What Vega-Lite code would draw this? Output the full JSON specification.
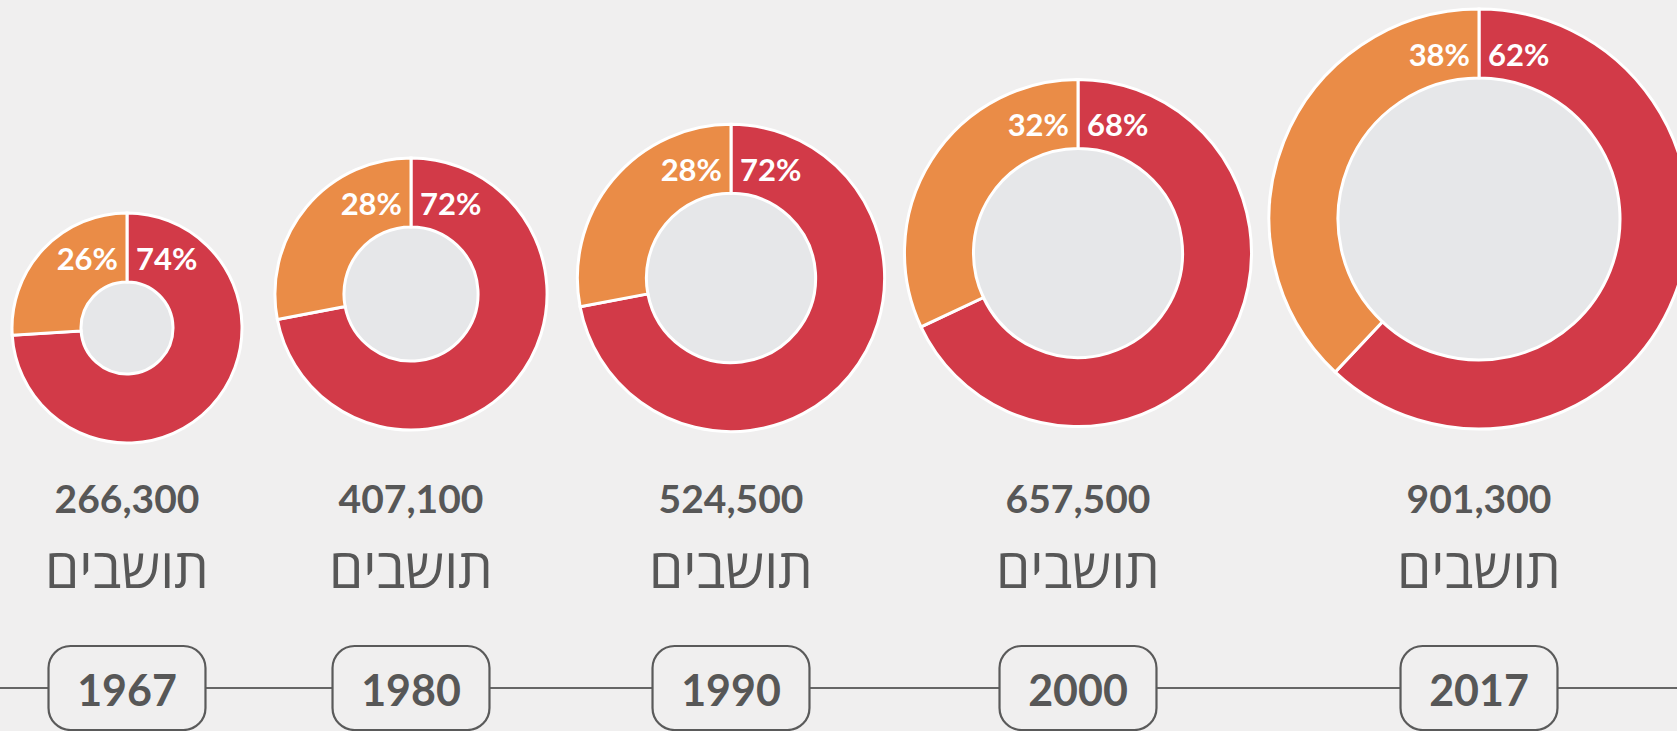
{
  "$schema": "https://vega.github.io/schema/vega-lite/v6.json",
  "width": 1677,
  "height": 731,
  "autosize": {"type": "none"},
  "padding": 0,
  "background": "#f0efef",
  "config": {"view": {"stroke": null}},
  "data": {
    "values": [
      {"year": 1967, "group": "יהודים", "share": 0.74, "population": 266300},
      {"year": 1967, "group": "ערבים", "share": 0.26, "population": 266300},
      {"year": 1980, "group": "יהודים", "share": 0.72, "population": 407100},
      {"year": 1980, "group": "ערבים", "share": 0.28, "population": 407100},
      {"year": 1990, "group": "יהודים", "share": 0.72, "population": 524500},
      {"year": 1990, "group": "ערבים", "share": 0.28, "population": 524500},
      {"year": 2000, "group": "יהודים", "share": 0.68, "population": 657500},
      {"year": 2000, "group": "ערבים", "share": 0.32, "population": 657500},
      {"year": 2017, "group": "יהודים", "share": 0.62, "population": 901300},
      {"year": 2017, "group": "ערבים", "share": 0.38, "population": 901300}
    ]
  },
  "layer": [
    {
      "layer": [
        {
          "transform": [{"filter": "datum.group === 'יהודים'"}],
          "mark": {"type": "arc", "fill": "#e6e7e9", "stroke": null, "radius2": 0, "radiusOffset": -69},
          "encoding": {
            "x": {"field": "year", "type": "quantitative", "axis": null, "scale": {"domain": [1967, 1980, 1990, 2000, 2017], "range": [127, 411, 731, 1078, 1479], "zero": false, "nice": false}},
            "y": {"field": "year", "type": "quantitative", "axis": null, "scale": {"domain": [1967, 1980, 1990, 2000, 2017], "range": [328, 294, 278, 253, 219], "zero": false, "nice": false}},
            "theta": {"datum": 0, "type": "quantitative", "scale": {"domain": [0, 1], "zero": true}},
            "theta2": {"datum": 1},
            "radius": {"field": "population", "type": "quantitative", "stack": null, "scale": {"type": "linear", "domain": [266300, 901300], "range": [115, 210], "zero": false, "nice": false}}
          }
        },
        {
          "transform": [
            {"stack": "share", "groupby": ["year"], "sort": [{"field": "group", "order": "ascending"}], "as": ["s0", "s1"]}
          ],
          "mark": {"type": "arc", "stroke": "white", "strokeWidth": 3, "radius2Offset": -69},
          "encoding": {
            "x": {"field": "year", "type": "quantitative"},
            "y": {"field": "year", "type": "quantitative"},
            "theta": {"field": "s0", "type": "quantitative", "stack": null},
            "theta2": {"field": "s1"},
            "radius": {"field": "population", "type": "quantitative", "stack": null},
            "radius2": {"field": "population"},
            "color": {"field": "group", "type": "nominal", "legend": null, "scale": {"domain": ["יהודים", "ערבים"], "range": ["#d23a48", "#ea8c47"]}}
          }
        },
        {
          "transform": [{"filter": "datum.group === 'יהודים'"}],
          "mark": {"type": "text", "align": "left", "baseline": "middle", "dx": 9, "radiusOffset": -48, "font": "Lato", "fontWeight": "bold", "fontSize": 31, "color": "white"},
          "encoding": {
            "x": {"field": "year", "type": "quantitative"},
            "y": {"field": "year", "type": "quantitative"},
            "theta": {"datum": 0, "type": "quantitative"},
            "radius": {"field": "population", "type": "quantitative", "stack": null},
            "text": {"field": "share", "type": "quantitative", "format": ".0%"}
          }
        },
        {
          "transform": [{"filter": "datum.group === 'ערבים'"}],
          "mark": {"type": "text", "align": "right", "baseline": "middle", "dx": -9, "radiusOffset": -48, "font": "Lato", "fontWeight": "bold", "fontSize": 31, "color": "white"},
          "encoding": {
            "x": {"field": "year", "type": "quantitative"},
            "y": {"field": "year", "type": "quantitative"},
            "theta": {"datum": 0, "type": "quantitative"},
            "radius": {"field": "population", "type": "quantitative", "stack": null},
            "text": {"field": "share", "type": "quantitative", "format": ".0%"}
          }
        }
      ]
    },
    {
      "transform": [{"filter": "datum.group === 'יהודים'"}],
      "layer": [
        {
          "mark": {"type": "rule", "color": "#666666", "strokeWidth": 2},
          "encoding": {
            "y": {"datum": "year", "type": "nominal", "axis": null, "scale": {"type": "point", "domain": ["pop", "label", "year"], "range": [500, 688], "padding": 0}}
          }
        },
        {
          "mark": {"type": "point", "shape": "M -0.706 -0.525 L 0.706 -0.525 C 0.858 -0.525 0.981 -0.402 0.981 -0.25 L 0.981 0.25 C 0.981 0.402 0.858 0.525 0.706 0.525 L -0.706 0.525 C -0.858 0.525 -0.981 0.402 -0.981 0.25 L -0.981 -0.25 C -0.981 -0.402 -0.858 -0.525 -0.706 -0.525 Z", "size": 25600, "filled": true, "fill": "#f0efef", "stroke": "#5a5a5a", "strokeWidth": 2.2, "opacity": 1},
          "encoding": {
            "x": {"field": "year", "type": "quantitative"},
            "y": {"datum": "year", "type": "nominal"}
          }
        },
        {
          "mark": {"type": "text", "font": "Lato", "fontWeight": "bold", "fontSize": 43, "color": "#575757", "baseline": "middle", "dy": 5},
          "encoding": {
            "x": {"field": "year", "type": "quantitative"},
            "y": {"datum": "year", "type": "nominal"},
            "text": {"field": "year", "type": "nominal"}
          }
        },
        {
          "mark": {"type": "text", "font": "Lato", "fontWeight": "bold", "fontSize": 39, "color": "#575757", "baseline": "middle", "dy": 1},
          "encoding": {
            "x": {"field": "year", "type": "quantitative"},
            "y": {"datum": "pop", "type": "nominal"},
            "text": {"field": "population", "type": "quantitative", "format": ","}
          }
        },
        {
          "mark": {"type": "text", "font": "Open Sans", "fontWeight": 400, "fontSize": 55, "color": "#575757", "baseline": "middle", "dy": -23, "text": "תושבים"},
          "encoding": {
            "x": {"field": "year", "type": "quantitative"},
            "y": {"datum": "label", "type": "nominal"}
          }
        }
      ]
    }
  ],
  "resolve": {"scale": {"y": "independent"}}
}
